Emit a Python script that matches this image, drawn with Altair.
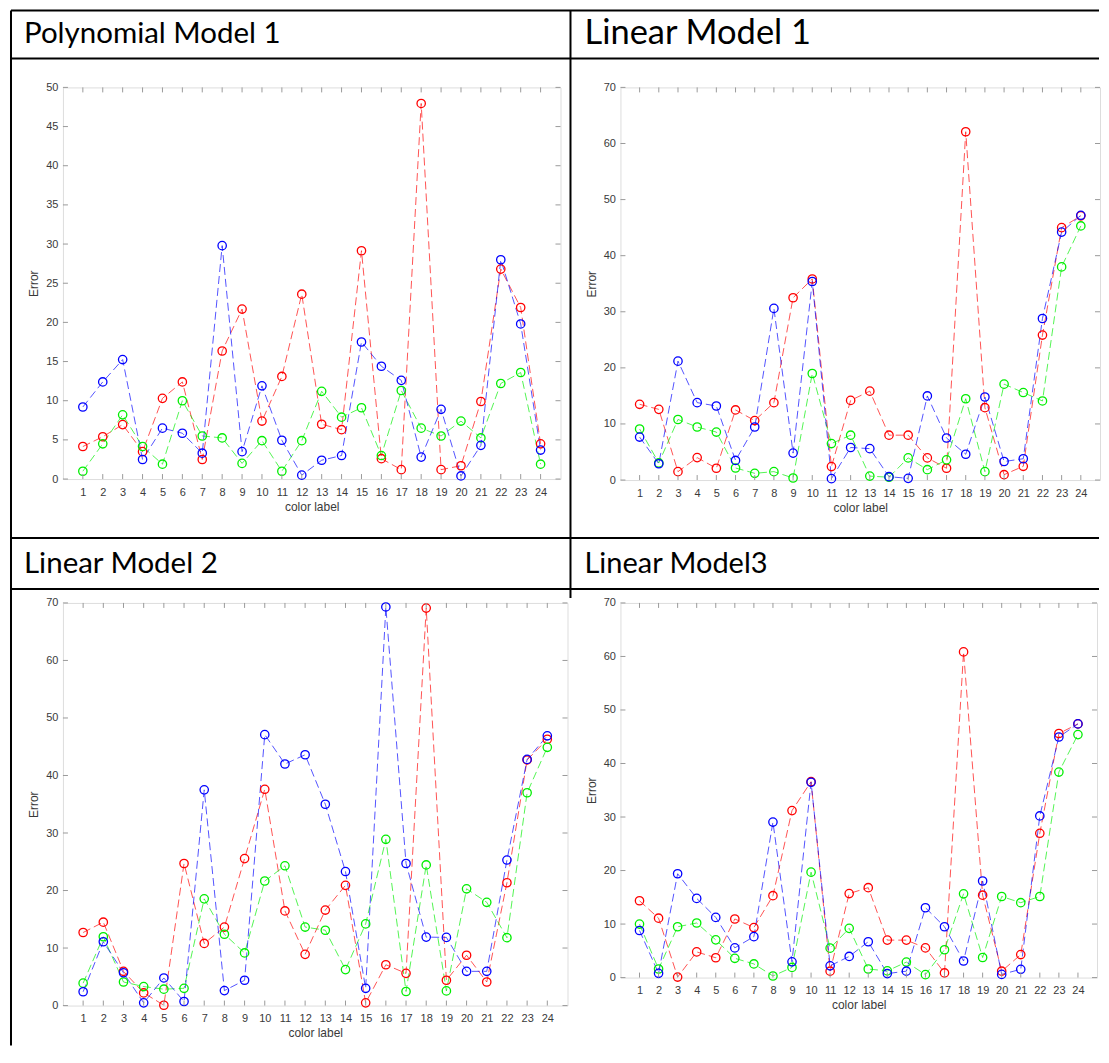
import altair as alt
import pandas as pd

labels = list(range(1, 25))

poly1_red = [4.15, 5.4, 6.95, 3.5, 10.3, 12.4, 2.5, 16.35, 21.7, 7.4, 13.1, 23.6, 7.0, 6.3, 29.15, 2.6, 1.2, 47.95, 1.2, 1.7, 9.9, 26.8, 21.9, 4.5]
poly1_green = [1.0, 4.5, 8.2, 4.15, 1.9, 10.0, 5.5, 5.25, 2.0, 4.9, 1.0, 4.9, 11.2, 7.9, 9.1, 3.0, 11.3, 6.5, 5.5, 7.4, 5.25, 12.2, 13.6, 1.9]
poly1_blue = [9.2, 12.4, 15.25, 2.5, 6.5, 5.85, 3.3, 29.8, 3.5, 11.9, 4.95, 0.5, 2.4, 3.0, 17.5, 14.4, 12.6, 2.8, 8.9, 0.4, 4.3, 28.0, 19.8, 3.7]

lin1_red = [13.5, 12.6, 1.5, 4.0, 2.1, 12.5, 10.6, 13.8, 32.5, 35.85, 2.4, 14.2, 15.85, 8.0, 8.0, 3.95, 2.1, 62.1, 12.9, 0.96, 2.45, 25.85, 45.0, 47.1]
lin1_green = [9.1, 3.05, 10.8, 9.45, 8.55, 2.15, 1.2, 1.5, 0.36, 19.0, 6.5, 8.0, 0.7, 0.5, 3.95, 1.85, 3.6, 14.5, 1.5, 17.1, 15.6, 14.1, 38.0, 45.3]
lin1_blue = [7.66, 2.9, 21.2, 13.8, 13.2, 3.5, 9.45, 30.6, 4.8, 35.4, 0.25, 5.8, 5.6, 0.6, 0.3, 15.0, 7.5, 4.6, 14.8, 3.3, 3.8, 28.8, 44.2, 47.2]

lin2_red = [12.7, 14.5, 5.95, 2.2, 0.06, 24.7, 10.8, 13.65, 25.55, 37.6, 16.45, 8.9, 16.6, 20.9, 0.47, 7.1, 5.6, 69.1, 4.4, 8.75, 4.1, 21.35, 42.7, 46.3]
lin2_green = [3.9, 11.96, 4.1, 3.3, 2.85, 3.0, 18.55, 12.4, 9.15, 21.65, 24.3, 13.65, 13.1, 6.25, 14.2, 28.9, 2.45, 24.45, 2.55, 20.3, 17.95, 11.8, 37.0, 44.9]
lin2_blue = [2.4, 11.1, 5.7, 0.47, 4.8, 0.7, 37.5, 2.6, 4.4, 47.1, 42.0, 43.6, 35.0, 23.3, 3.0, 69.3, 24.7, 11.9, 11.85, 5.95, 5.95, 25.3, 42.8, 46.9]

lin3_red = [14.35, 11.1, 0.1, 4.8, 3.7, 10.95, 9.35, 15.3, 31.2, 36.6, 1.2, 15.7, 16.8, 7.0, 7.0, 5.55, 0.87, 60.85, 15.4, 1.2, 4.3, 26.96, 45.6, 47.4]
lin3_green = [10.0, 1.6, 9.5, 10.2, 7.05, 3.6, 2.55, 0.3, 1.9, 19.7, 5.5, 9.2, 1.6, 1.25, 2.9, 0.55, 5.2, 15.65, 3.75, 15.15, 14.0, 15.15, 38.4, 45.4]
lin3_blue = [8.8, 0.8, 19.4, 14.8, 11.25, 5.55, 7.65, 29.05, 2.95, 36.5, 2.2, 3.95, 6.7, 0.75, 1.2, 13.05, 9.5, 3.1, 18.05, 0.6, 1.55, 30.2, 44.95, 47.4]

yticks_poly = [0, 5, 10, 15, 20, 25, 30, 35, 40, 45, 50]
yticks_lin = [0, 10, 20, 30, 40, 50, 60, 70]

series_names = ["red", "green", "blue"]
series_colors = ["#ff0000", "#00ee00", "#0000ff"]

BOX = "#9a9a9a"
TXT = "#3a3a3a"
AXFONT = "Liberation Sans"
TITLEFONT = "Lato"

one = pd.DataFrame({"a": [0]})


def hline(y, x1, x2):
    return alt.Chart(one).mark_rule(color="black", strokeWidth=2).encode(
        x=alt.value(x1), x2=alt.value(x2), y=alt.value(y))


def vline(x, y1, y2):
    return alt.Chart(one).mark_rule(color="black", strokeWidth=2).encode(
        x=alt.value(x), y=alt.value(y1), y2=alt.value(y2))


def panel(red, green, blue, yticks, w, h, title, tx, ty, tsize, extra=()):
    rows = []
    for name, vals in zip(series_names, [red, green, blue]):
        for lab, v in zip(labels, vals):
            rows.append({"label": lab, "Error": v, "series": name})
    df = pd.DataFrame(rows)
    xs = alt.Scale(domain=[0, 25], nice=False, zero=False)
    ys = alt.Scale(domain=[0, yticks[-1]], nice=False)
    color = alt.Color("series:N", scale=alt.Scale(domain=series_names, range=series_colors), legend=None)
    xaxis = alt.Axis(values=labels, title="color label", grid=False, ticks=False,
                     domain=False, labelFontSize=11, labelColor=TXT, labelPadding=7,
                     labelFont=AXFONT, titleFont=AXFONT, titleFontSize=12,
                     titleFontWeight="normal", titleColor=TXT, titlePadding=4, labelOverlap=False)
    yaxis = alt.Axis(values=yticks, title="Error", grid=False, ticks=False,
                     domain=False, labelFontSize=11, labelColor=TXT, labelPadding=5,
                     labelFont=AXFONT, titleFont=AXFONT, titleFontSize=12,
                     titleFontWeight="normal", titleColor=TXT, titlePadding=5)
    base = alt.Chart(df)
    lines = base.mark_line(strokeDash=[8, 4], strokeWidth=0.9, opacity=0.75).encode(
        x=alt.X("label:Q", scale=xs, axis=xaxis),
        y=alt.Y("Error:Q", scale=ys, axis=yaxis),
        color=color,
        order="label:Q",
    )
    pts = base.mark_point(shape="circle", filled=False, size=70, strokeWidth=1.3, opacity=1).encode(
        x=alt.X("label:Q", scale=xs, axis=xaxis),
        y=alt.Y("Error:Q", scale=ys, axis=yaxis),
        color=color,
    )
    xt = pd.DataFrame({"label": labels})
    yt = pd.DataFrame({"Error": yticks})
    tb = alt.Chart(xt).mark_rule(color=BOX, strokeWidth=1).encode(
        x=alt.X("label:Q", scale=xs, axis=xaxis), y=alt.value(h), y2=alt.value(h - 5))
    tt = alt.Chart(xt).mark_rule(color=BOX, strokeWidth=1).encode(
        x=alt.X("label:Q", scale=xs, axis=xaxis), y=alt.value(0), y2=alt.value(5))
    tl = alt.Chart(yt).mark_rule(color=BOX, strokeWidth=1).encode(
        y=alt.Y("Error:Q", scale=ys, axis=yaxis), x=alt.value(0), x2=alt.value(5))
    tr = alt.Chart(yt).mark_rule(color=BOX, strokeWidth=1).encode(
        y=alt.Y("Error:Q", scale=ys, axis=yaxis), x=alt.value(w - 5), x2=alt.value(w))
    ttl = alt.Chart(one).mark_text(align="left", baseline="middle", font=TITLEFONT,
                                   fontSize=tsize, color="black").encode(
        x=alt.value(tx), y=alt.value(ty), text=alt.value(title))
    return alt.layer(lines, pts, tb, tt, tl, tr, *extra, ttl).properties(width=w, height=h)


# table frame (relative to the first panel's plot area)
frame = [
    hline(-77, -52, 1037),
    hline(-29, -52, 1037),
    hline(451, -52, 1037),
    hline(502, -52, 1037),
    vline(-52, -77, 959),
    vline(508, -77, 511),
]

p1 = panel(poly1_red, poly1_green, poly1_blue, yticks_poly, 498, 392, "Polynomial Model 1", -39, -53, 29.5, frame)
p2 = panel(lin1_red, lin1_green, lin1_blue, yticks_lin, 480, 393, "Linear Model 1", -36, -53, 34.5)
p3 = panel(lin2_red, lin2_green, lin2_blue, yticks_lin, 505, 403, "Linear Model 2", -39, -39, 29.5)
p4 = panel(lin3_red, lin3_green, lin3_blue, yticks_lin, 477, 375, "Linear Model3", -36, -39, 29)

chart = alt.concat(p1, p2, p3, p4, columns=2, spacing={"row": 123, "column": 53}, bounds="flush").properties(
    padding={"left": 1, "top": 0, "right": 0, "bottom": 0}
).configure_view(stroke=BOX, strokeWidth=1).configure(background="white")

chart.save("out.html", embed_options={"renderer": "svg", "actions": False})
